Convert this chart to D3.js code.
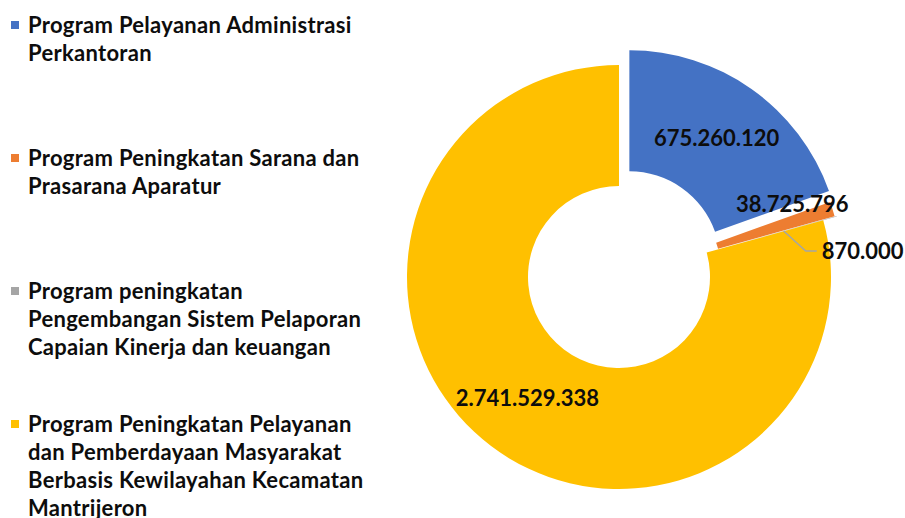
<!DOCTYPE html>
<meta charset="utf-8">
<style>
  body { margin: 0; background: #fff; }
  svg text { font-family: Lato, "Open Sans", sans-serif; font-weight: bold; fill: #0d0d0d; }
</style>
<body>
<script src="https://d3js.org/d3.v7.min.js"></script>
<script>
var width = 905,
    height = 518;

// data
var programs = [
  "Program Pelayanan Administrasi Perkantoran",
  "Program Peningkatan Sarana dan Prasarana Aparatur",
  "Program peningkatan Pengembangan Sistem Pelaporan Capaian Kinerja dan keuangan",
  "Program Peningkatan Pelayanan dan Pemberdayaan Masyarakat Berbasis Kewilayahan Kecamatan Mantrijeron"
];
var legendLines = [
  ["Program Pelayanan Administrasi", "Perkantoran"],
  ["Program Peningkatan Sarana dan", "Prasarana Aparatur"],
  ["Program peningkatan", "Pengembangan Sistem Pelaporan", "Capaian Kinerja dan keuangan"],
  ["Program Peningkatan Pelayanan", "dan Pemberdayaan Masyarakat", "Berbasis Kewilayahan Kecamatan", "Mantrijeron"]
];
var values = [675260120, 38725796, 870000, 2741529338];
var labels = ["675.260.120", "38.725.796", "870.000", "2.741.529.338"];
var colors = ["#4472C4", "#ED7D31", "#A5A5A5", "#FFC000"];
var explode = [18, 12, 14, 0];

var cx = 619, cy = 277,
    rInner = 91, rOuter = 212;

var svg = d3.select("body").append("svg")
    .attr("width", width)
    .attr("height", height);

var pie = d3.pie().sort(null).value(function(d) { return d; });
var arcs = pie(values);

var arc = d3.arc().innerRadius(rInner).outerRadius(rOuter);

function offset(d, i, r) {
  var a = (d.startAngle + d.endAngle) / 2;
  return [Math.sin(a) * r, -Math.cos(a) * r];
}

var g = svg.append("g").attr("transform", "translate(" + cx + "," + cy + ")");

g.selectAll("path.slice")
  .data(arcs)
  .enter()
  .append("path")
    .attr("class", "slice")
    .attr("d", arc)
    .attr("fill", function(d, i) { return colors[i]; })
    .attr("transform", function(d, i) {
      var o = offset(d, i, explode[i]);
      return "translate(" + o[0] + "," + o[1] + ")";
    });

// labels inside the big slices
[0, 3].forEach(function(i) {
  var d = arcs[i];
  var o = offset(d, i, explode[i]);
  var c = arc.centroid(d);
  g.append("text")
    .attr("x", c[0] + o[0])
    .attr("y", c[1] + o[1])
    .attr("dy", "0.36em")
    .attr("text-anchor", "middle")
    .style("font-size", "22px")
    .text(labels[i]);
});

// small orange slice label, just past the slice
(function() {
  var d = arcs[1];
  var a = (d.startAngle + d.endAngle) / 2 - 0.09;
  var r = 188;
  g.append("text")
    .attr("x", Math.sin(a) * r)
    .attr("y", -Math.cos(a) * r)
    .attr("dy", "0.36em")
    .attr("text-anchor", "middle")
    .style("font-size", "22px")
    .text(labels[1]);
})();

// gray slice label with leader line
(function() {
  var d = arcs[2];
  var a = (d.startAngle + d.endAngle) / 2;
  var o = offset(d, 2, explode[2]);
  var r0 = 157;
  var p0 = [Math.sin(a) * r0 + o[0], -Math.cos(a) * r0 + o[1]];
  var p1 = [p0[0] + 22, p0[1] + 20];
  var p2 = [p1[0] + 11, p1[1]];
  g.append("polyline")
    .attr("points", [p0, p1, p2].map(function(p) { return p.join(","); }).join(" "))
    .attr("fill", "none")
    .attr("stroke", "#A5A5A5")
    .attr("stroke-width", 1.5);
  g.append("text")
    .attr("x", p2[0] + 5)
    .attr("y", p2[1])
    .attr("dy", "0.36em")
    .style("font-size", "22px")
    .text(labels[2]);
})();

// legend
var legendStep = 133, lineH = 28;
var legend = svg.append("g").attr("transform", "translate(11,22)");
var items = legend.selectAll("g.item")
  .data(legendLines)
  .enter()
  .append("g")
    .attr("class", "item")
    .attr("transform", function(d, i) { return "translate(0," + (i * legendStep) + ")"; });

items.append("rect")
  .attr("x", 0)
  .attr("y", -1)
  .attr("width", 8)
  .attr("height", 8)
  .attr("fill", function(d, i) { return colors[i]; });

items.each(function(lines) {
  var t = d3.select(this).append("text")
    .attr("x", 17)
    .attr("y", 3)
    .style("font-size", "22px")
    .style("letter-spacing", "0.3px");
  t.selectAll("tspan")
    .data(lines)
    .enter()
    .append("tspan")
      .attr("x", 17)
      .attr("y", function(l, j) { return 3 + j * lineH; })
      .attr("dy", "0.36em")
      .text(function(l) { return l; });
});
</script>
</body>
